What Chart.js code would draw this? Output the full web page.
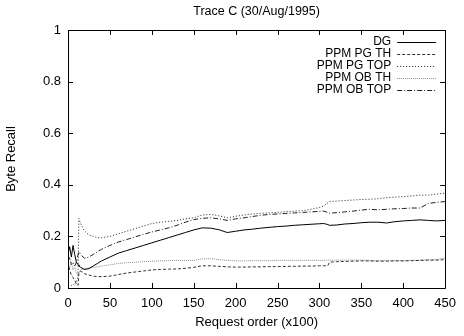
<!DOCTYPE html>
<html>
<head>
<meta charset="utf-8">
<script src="https://cdn.jsdelivr.net/npm/chart.js@4/dist/chart.umd.min.js"></script>
<style>
  html, body { margin: 0; padding: 0; background: #fff; }
  #wrap { width: 464px; height: 336px; }
</style>
</head>
<body>
<div id="wrap"><canvas id="c" width="464" height="336"></canvas></div>
<script>
// Request order (x100) sample points shared by all series
const requestOrder = [0, 2, 4, 6, 8, 10, 12, 13, 15, 18, 20, 25, 30, 35, 40, 50, 60, 70, 80, 90, 100,
  110, 120, 130, 140, 150, 160, 170, 180, 190, 200, 210, 220, 230, 240, 250, 260, 270, 280, 290, 300,
  305, 310, 312, 320, 330, 340, 350, 360, 370, 380, 390, 400, 410, 420, 430, 440, 450];

const dg = [0.13, 0.16, 0.12, 0.165, 0.13, 0.1, 0.09, 0.085, 0.08, 0.075, 0.072, 0.075, 0.085, 0.095, 0.105,
  0.12, 0.135, 0.145, 0.155, 0.165, 0.175, 0.185, 0.195, 0.205, 0.215, 0.225, 0.233, 0.232, 0.226, 0.215,
  0.22, 0.225, 0.228, 0.232, 0.235, 0.238, 0.24, 0.243, 0.245, 0.247, 0.249, 0.25, 0.246, 0.243, 0.244,
  0.248, 0.25, 0.253, 0.255, 0.255, 0.252, 0.257, 0.26, 0.262, 0.264, 0.262, 0.26, 0.262];

const ppmPgTh = [0.1, 0.07, 0.05, 0.04, 0.03, 0.015, 0.01, 0.06, 0.065, 0.06, 0.055, 0.05, 0.046, 0.044, 0.044,
  0.046, 0.052, 0.058, 0.062, 0.066, 0.07, 0.072, 0.073, 0.074, 0.076, 0.08, 0.086, 0.086, 0.084, 0.082,
  0.081, 0.081, 0.082, 0.082, 0.083, 0.083, 0.084, 0.084, 0.085, 0.085, 0.086, 0.086, 0.087, 0.1, 0.102,
  0.103, 0.104, 0.105, 0.105, 0.104, 0.104, 0.105, 0.105, 0.106, 0.107, 0.108, 0.108, 0.11];

const ppmPgTop = [0.01, 0.01, 0.01, 0.015, 0.01, 0.02, 0.05, 0.27, 0.25, 0.23, 0.22, 0.205, 0.2, 0.195, 0.195,
  0.2, 0.21, 0.22, 0.23, 0.24, 0.25, 0.255, 0.258, 0.262, 0.268, 0.272, 0.283, 0.285, 0.28, 0.272,
  0.278, 0.283, 0.287, 0.29, 0.291, 0.293, 0.296, 0.298, 0.3, 0.305, 0.312, 0.318, 0.33, 0.335, 0.337,
  0.339, 0.341, 0.343, 0.344, 0.346, 0.35, 0.352, 0.354, 0.357, 0.36, 0.36, 0.364, 0.368];

const ppmObTh = [0.09, 0.08, 0.1, 0.07, 0.08, 0.06, 0.05, 0.06, 0.07, 0.072, 0.075, 0.078, 0.08, 0.082, 0.085,
  0.09, 0.095, 0.098, 0.1, 0.102, 0.104, 0.105, 0.106, 0.107, 0.106, 0.107, 0.113, 0.114, 0.11, 0.107,
  0.105, 0.105, 0.106, 0.106, 0.106, 0.107, 0.107, 0.107, 0.107, 0.107, 0.107, 0.107, 0.108, 0.108, 0.108,
  0.108, 0.108, 0.108, 0.107, 0.106, 0.106, 0.107, 0.106, 0.107, 0.108, 0.109, 0.11, 0.117];

const ppmObTop = [0.1, 0.12, 0.09, 0.1, 0.085, 0.1, 0.13, 0.14, 0.13, 0.12, 0.115, 0.12, 0.13, 0.14, 0.15,
  0.165, 0.178, 0.188, 0.198, 0.208, 0.217, 0.225, 0.233, 0.243, 0.255, 0.265, 0.27, 0.272, 0.268, 0.262,
  0.268, 0.272, 0.277, 0.282, 0.285, 0.287, 0.289, 0.291, 0.293, 0.295, 0.297, 0.298, 0.293, 0.29, 0.292,
  0.295, 0.298, 0.302, 0.305, 0.303, 0.305, 0.307, 0.308, 0.31, 0.31, 0.328, 0.332, 0.335];

const seriesNames = ['DG', 'PPM PG TH', 'PPM PG TOP', 'PPM OB TH', 'PPM OB TOP'];
const seriesValues = [dg, ppmPgTh, ppmPgTop, ppmObTh, ppmObTop];
const seriesColors = ['#000000', '#333333', '#222222', '#8a8a8a', '#222222'];
const seriesDashes = [[], [3, 2], [1, 2], [1, 1], [5, 2, 1, 2]];

const chartTitle = 'Trace C (30/Aug/1995)';
const xTitle = 'Request order (x100)';
const yTitle = 'Byte Recall';

const FONT = '"Liberation Sans", Arial, Helvetica, sans-serif';
const FS = 13;
const KEY_FS = 12;

const datasets = seriesNames.map((name, i) => ({
  label: name,
  data: requestOrder.map((x, j) => ({ x: x, y: seriesValues[i][j] })),
  borderColor: seriesColors[i],
  borderDash: seriesDashes[i],
  borderWidth: 1,
  pointRadius: 0,
  tension: 0,
  fill: false
}));

// Frame with inward ticks on all four sides, title and key
const framePlugin = {
  id: 'frame',
  afterDatasetsDraw(chart) {
    const ctx = chart.ctx;
    const a = chart.chartArea;
    const xs = chart.scales.x, ys = chart.scales.y;
    const tl = 5;
    ctx.save();
    ctx.strokeStyle = '#000';
    ctx.lineWidth = 1;
    ctx.setLineDash([]);
    ctx.beginPath();
    ctx.rect(Math.round(a.left) + 0.5, Math.round(a.top) + 0.5,
             Math.round(a.right - a.left), Math.round(a.bottom - a.top));
    ctx.stroke();
    ctx.beginPath();
    xs.ticks.forEach(t => {
      const p = Math.round(xs.getPixelForValue(t.value)) + 0.5;
      ctx.moveTo(p, a.bottom); ctx.lineTo(p, a.bottom - tl);
      ctx.moveTo(p, a.top); ctx.lineTo(p, a.top + tl);
    });
    ys.ticks.forEach(t => {
      const p = Math.round(ys.getPixelForValue(t.value)) + 0.5;
      ctx.moveTo(a.left, p); ctx.lineTo(a.left + tl, p);
      ctx.moveTo(a.right, p); ctx.lineTo(a.right - tl, p);
    });
    ctx.stroke();

    // title
    ctx.fillStyle = '#000';
    ctx.font = (FS - 0.5) + 'px ' + FONT;
    ctx.textAlign = 'center';
    ctx.textBaseline = 'middle';
    ctx.fillText(chartTitle, (a.left + a.right) / 2, 12);

    // key, top right inside the frame
    ctx.font = KEY_FS + 'px ' + FONT;
    ctx.textAlign = 'right';
    const textRight = a.right - 54;
    const sx0 = a.right - 48, sx1 = a.right - 9;
    chart.data.datasets.forEach((ds, i) => {
      const y = a.top + 12 + i * 12;
      ctx.fillStyle = '#000';
      ctx.fillText(ds.label, textRight, y);
      ctx.strokeStyle = ds.borderColor;
      ctx.setLineDash(ds.borderDash);
      ctx.beginPath();
      ctx.moveTo(sx0, Math.round(y) + 0.5);
      ctx.lineTo(sx1, Math.round(y) + 0.5);
      ctx.stroke();
    });
    ctx.restore();
  }
};

new Chart(document.getElementById('c'), {
  type: 'line',
  data: { datasets: datasets },
  options: {
    responsive: false,
    animation: false,
    devicePixelRatio: 1,
    layout: { padding: { left: 0, right: 14, top: 30, bottom: 0 } },
    plugins: { legend: { display: false }, title: { display: false }, tooltip: { enabled: false } },
    scales: {
      x: {
        type: 'linear', min: 0, max: 450,
        ticks: { stepSize: 50, color: '#000', font: { family: FONT, size: FS }, padding: 8, maxRotation: 0 },
        grid: { display: false, drawTicks: false },
        border: { display: false },
        title: { display: true, text: xTitle, color: '#000', font: { family: FONT, size: FS }, padding: { top: 0, bottom: 6 } },
        afterFit(s) { s.height = 48; }
      },
      y: {
        type: 'linear', min: 0, max: 1,
        ticks: {
          stepSize: 0.2, color: '#000', font: { family: FONT, size: FS }, padding: 7,
          callback: v => String(Number(v.toFixed(1)))
        },
        grid: { display: false, drawTicks: false },
        border: { display: false },
        title: { display: true, text: yTitle, color: '#000', font: { family: FONT, size: FS }, padding: { top: 4, bottom: 0 } },
        afterFit(s) { s.width = 68; }
      }
    }
  },
  plugins: [framePlugin]
});
</script>
</body>
</html>
